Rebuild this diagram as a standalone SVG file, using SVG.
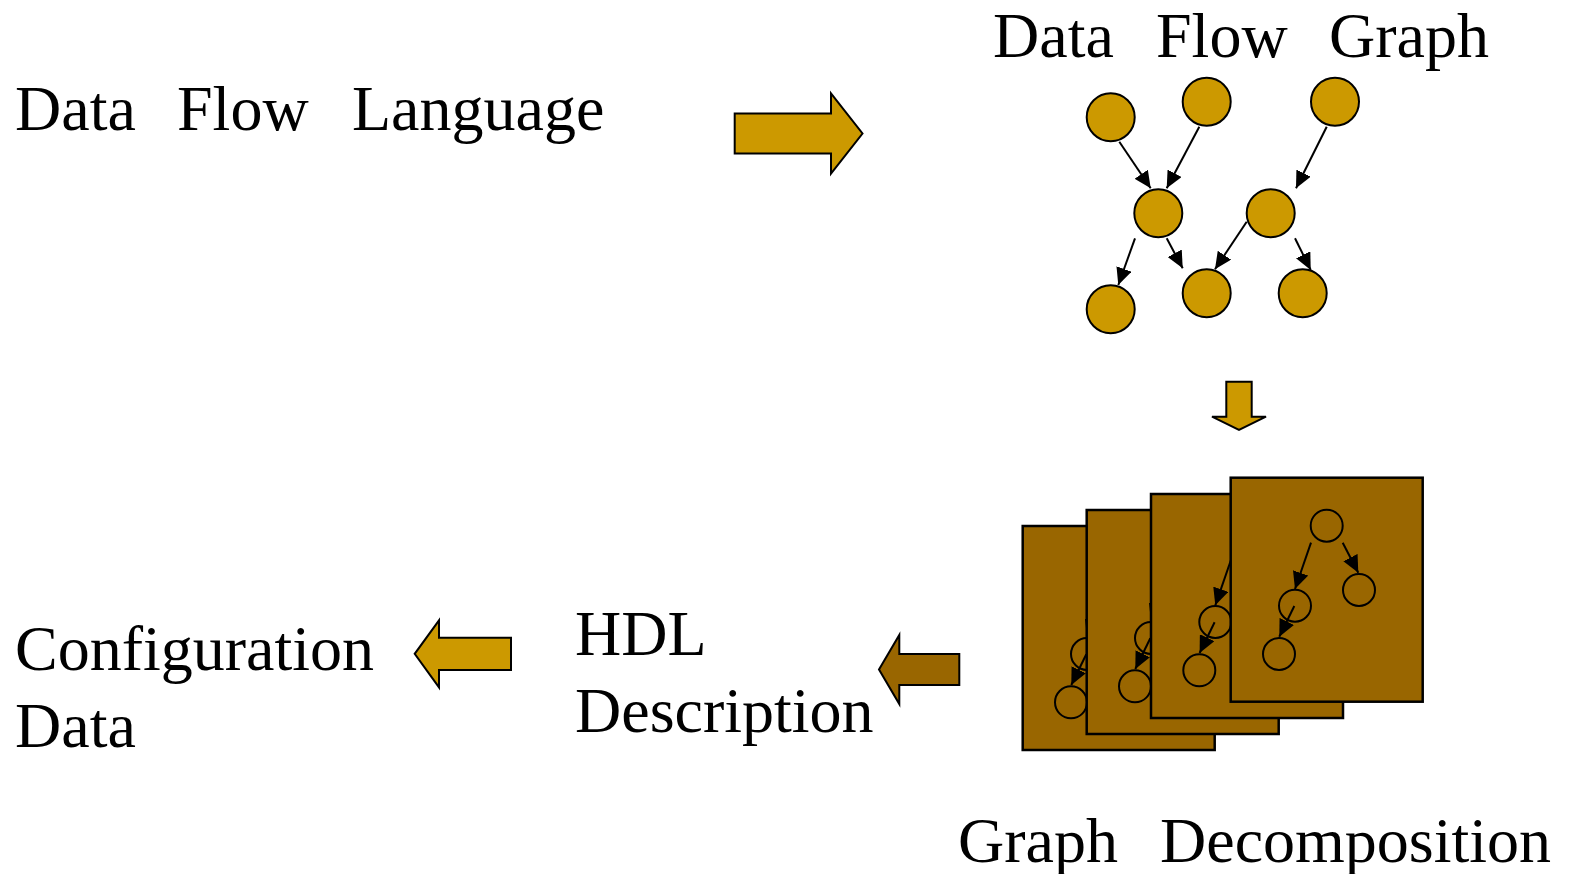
<svg xmlns="http://www.w3.org/2000/svg" xmlns:xlink="http://www.w3.org/1999/xlink" width="1572" height="874" viewBox="0 0 1572 874">
  <style>
    .label { font-family: "Liberation Serif", "Times New Roman", serif; font-size: 64px; fill: #000; }
    .node { fill: #CC9900; stroke: #000; stroke-width: 2; }
    .edge { stroke: #000; stroke-width: 2; fill: none; marker-end: url(#head); }
    .page { fill: #996600; stroke: #000; stroke-width: 2.5; }
    .sub { fill: none; stroke: #000; stroke-width: 2; }
    .bigarrow { stroke: #000; stroke-width: 2; stroke-linejoin: miter; }
    .gold { fill: #CC9900; }
    .brown { fill: #996600; }
  </style>
  <defs>
    <marker id="head" markerUnits="userSpaceOnUse" markerWidth="18" markerHeight="16" refX="17" refY="8" orient="auto">
      <path d="M0,0 L17,8 L0,16 Z" fill="#000"/>
    </marker>
    <!-- small tree drawn on every decomposition sheet, relative to its top-left corner -->
    <g id="subgraph">
      <circle class="sub" cx="96" cy="48" r="16"/>
      <circle class="sub" cx="128.3" cy="112.3" r="16"/>
      <circle class="sub" cx="64.3" cy="128" r="16"/>
      <circle class="sub" cx="48.3" cy="176.3" r="16"/>
      <line class="edge" x1="80.3" y1="65" x2="64.3" y2="111.3"/>
      <line class="edge" x1="112" y1="65" x2="127.6" y2="95"/>
      <line class="edge" x1="63.6" y1="128.3" x2="48.6" y2="159"/>
    </g>
  </defs>

  <rect width="1572" height="874" fill="#fff"/>

  <!-- labels -->
  <g id="lbl-language">
    <text class="label" y="130"><tspan x="15">Data</tspan><tspan x="177">Flow</tspan><tspan x="352">Language</tspan></text>
  </g>
  <g id="lbl-dfg">
    <text class="label" y="57"><tspan x="993">Data</tspan><tspan x="1156">Flow</tspan><tspan x="1329">Graph</tspan></text>
  </g>
  <g id="lbl-decomp">
    <text class="label" y="862"><tspan x="958">Graph</tspan><tspan x="1160">Decomposition</tspan></text>
  </g>
  <g id="lbl-hdl">
    <text class="label"><tspan x="575" y="655">HDL</tspan><tspan x="575" y="732">Description</tspan></text>
  </g>
  <g id="lbl-config">
    <text class="label"><tspan x="15" y="670">Configuration</tspan><tspan x="15" y="747">Data</tspan></text>
  </g>

  <!-- data flow graph nodes -->
  <g id="dfg-nodes">
    <g id="n1"><circle class="node" cx="1110.7" cy="117.3" r="24"/></g>
    <g id="n2"><circle class="node" cx="1206.7" cy="101.7" r="24"/></g>
    <g id="n3"><circle class="node" cx="1335" cy="101.7" r="24"/></g>
    <g id="n4"><circle class="node" cx="1158.3" cy="213.3" r="24"/></g>
    <g id="n5"><circle class="node" cx="1270.7" cy="213.3" r="24"/></g>
    <g id="n6"><circle class="node" cx="1110.7" cy="309.3" r="24"/></g>
    <g id="n7"><circle class="node" cx="1206.7" cy="293.3" r="24"/></g>
    <g id="n8"><circle class="node" cx="1302.7" cy="293.3" r="24"/></g>
  </g>

  <!-- decomposition sheets, back to front -->
  <g id="sheet1">
    <rect class="page" x="1022.7" y="526" width="192" height="224"/>
    <use xlink:href="#subgraph" x="1022.7" y="526"/>
  </g>
  <g id="sheet2">
    <rect class="page" x="1086.7" y="510" width="192" height="224"/>
    <use xlink:href="#subgraph" x="1086.7" y="510"/>
  </g>
  <g id="sheet3">
    <rect class="page" x="1151" y="494" width="192" height="224"/>
    <use xlink:href="#subgraph" x="1151" y="494"/>
  </g>
  <g id="sheet4">
    <rect class="page" x="1230.7" y="477.7" width="192" height="224"/>
    <use xlink:href="#subgraph" x="1230.7" y="477.7"/>
  </g>

  <!-- connectors -->
  <g id="connectors">
    <line class="edge" x1="1119.3" y1="141.7" x2="1150.7" y2="188.3"/>
    <line class="edge" x1="1199.3" y1="126.7" x2="1166.7" y2="188.3"/>
    <line class="edge" x1="1326.7" y1="126.7" x2="1296" y2="188.3"/>
    <line class="edge" x1="1135" y1="238.3" x2="1118.3" y2="285"/>
    <line class="edge" x1="1166.7" y1="238.3" x2="1182.7" y2="268.3"/>
    <line class="edge" x1="1246.7" y1="221.7" x2="1215" y2="269.3"/>
    <line class="edge" x1="1295" y1="238.3" x2="1310.7" y2="270"/>

    <path class="bigarrow gold" d="M734.7,113.5 H831 V93.5 L862.5,133.5 L831,173.5 V153.5 H734.7 Z"/>
    <path class="bigarrow gold" d="M1226.3,381.7 H1251.7 V416.7 H1266 L1239,430 L1212,416.7 H1226.3 Z"/>
    <path class="bigarrow brown" d="M959.3,654 V685 H899.3 V704 L879,669.5 L899.3,635 V654 Z"/>
    <path class="bigarrow gold" d="M511,637.7 V670 H439 V687.3 L414.7,653.8 L439,620.3 V637.7 Z"/>
  </g>
</svg>
